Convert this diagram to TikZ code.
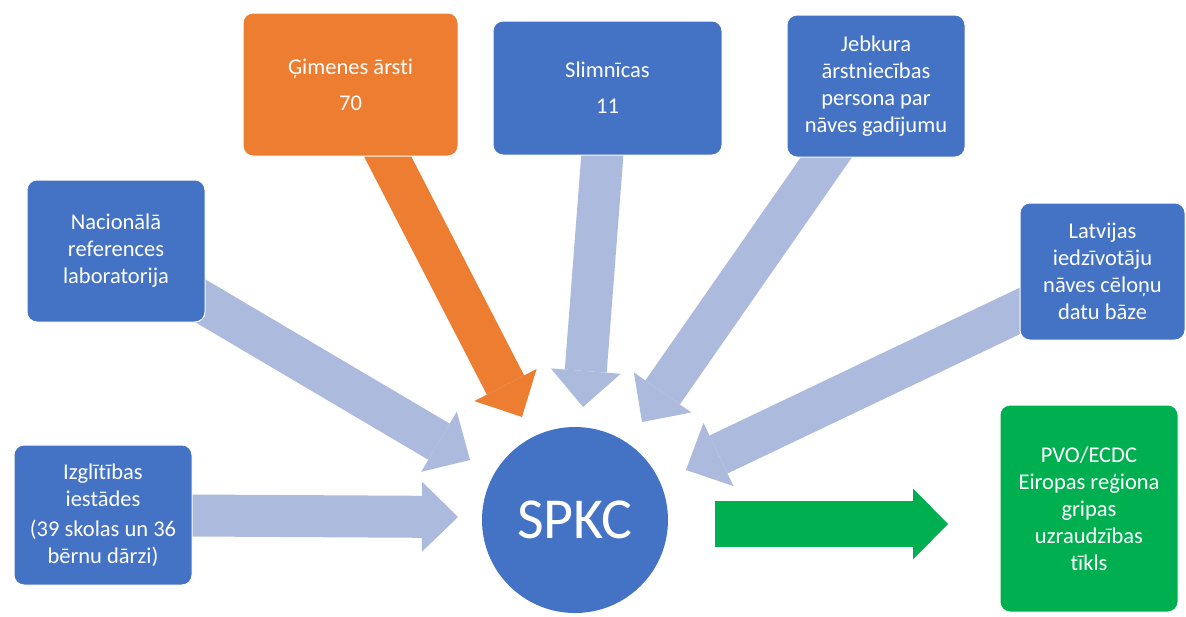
\documentclass[tikz,border=0pt]{standalone}
\usepackage{fontspec}
\setmainfont{Carlito}[Ligatures=CommonOff]
\usetikzlibrary{arrows.meta,backgrounds}
\definecolor{boxblue}{HTML}{4472C4}
\definecolor{boxorange}{HTML}{ED7D31}
\definecolor{boxgreen}{HTML}{00B050}
\definecolor{arrlight}{RGB}{172,186,221}
\tikzset{
  box/.style={rectangle, rounded corners=10pt, draw=white, line width=1pt,
    text=white, align=center, inner sep=0pt,
    font=\fontsize{22.5}{27}\selectfont},
  bluebox/.style={box, fill=boxblue},
  orangebox/.style={box, fill=boxorange},
  greenbox/.style={box, fill=boxgreen},
  blockarrow/.style={line width=42pt, line cap=butt,
    -{Triangle[width=70pt,length=36pt,line width=0pt]}},
  lightarrow/.style={blockarrow, draw=arrlight},
  orangearrow/.style={blockarrow, draw=boxorange},
  greenarrow/.style={line width=46pt, line cap=butt, draw=boxgreen,
    -{Triangle[width=71pt,length=35pt,line width=0pt]}}
}
\begin{document}
\begin{tikzpicture}[x=1pt,y=-1pt]
\useasboundingbox (0,0) rectangle (1186,616);

% boxes
\node[bluebox, minimum width=178pt, minimum height=142pt] (nac) at (116,251)
  {Nacionālā\\references\\laboratorija};
\node[bluebox, minimum width=178pt, minimum height=140pt] (izg) at (103,515)
  {Izglītības\\iestādes\\[3pt](39 skolas un 36\\bērnu dārzi)};
\node[orangebox, minimum width=215pt, minimum height=143pt] (gim) at (350.5,84.5)
  {Ģimenes ārsti\\[9pt]70};
\node[bluebox, minimum width=229pt, minimum height=134pt] (sli) at (607.5,88)
  {Slimnīcas\\[9pt]11};
\node[bluebox, minimum width=178pt, minimum height=142pt] (jeb) at (876,86)
  {Jebkura\\ārstniecības\\persona par\\nāves gadījumu};
\node[bluebox, minimum width=165pt, minimum height=137pt] (lat) at (1102.5,271.5)
  {Latvijas\\iedzīvotāju\\nāves cēloņu\\datu bāze};
\node[greenbox, minimum width=178pt, minimum height=207pt] (pvo) at (1089,508.5)
  {PVO/ECDC\\Eiropas reģiona\\gripas\\uzraudzības\\tīkls};

% centre
\node[circle, fill=boxblue, minimum size=186pt, inner sep=0pt, text=white,
  font=\fontsize{58}{60}\selectfont] (spkc) at (575,520) {SPKC};

% arrow tips
\coordinate (tNac) at (470,460);
\coordinate (tIzg) at (458,517);
\coordinate (tGim) at (522,417);
\coordinate (tSli) at (583,407);
\coordinate (tJeb) at (642,422);
\coordinate (tLat) at (686,470);
\coordinate (gS) at (715,524);
\coordinate (gE) at (948,524);

\begin{scope}[on background layer]
\fill[white] (0,0) rectangle (1186,616);
\draw[lightarrow] (nac.center) -- (tNac);
\draw[lightarrow] (izg.center) -- (tIzg);
\draw[orangearrow] (gim.center) -- (tGim);
\draw[lightarrow] (sli.center) -- (tSli);
\draw[lightarrow] (jeb.center) -- (tJeb);
\draw[lightarrow] (lat.center) -- (tLat);
\end{scope}
\draw[greenarrow] (gS) -- (gE);
\end{tikzpicture}
\end{document}
